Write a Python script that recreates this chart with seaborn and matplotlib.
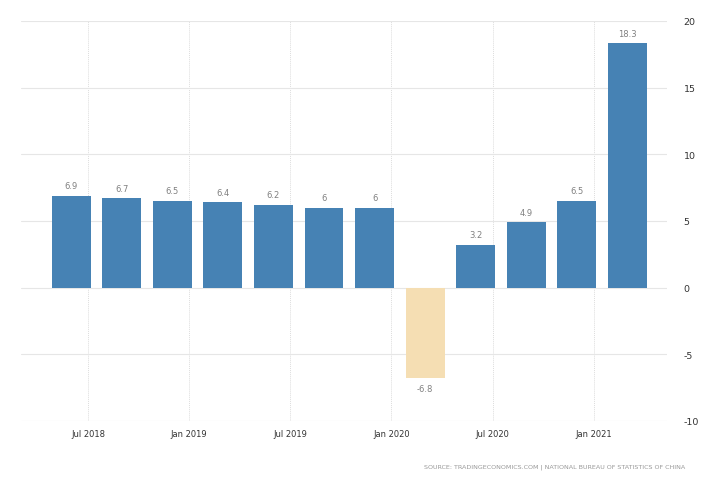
import pandas as pd
import matplotlib.pyplot as plt
import seaborn as sns

# trimestres Q2 2018 .. Q1 2021, posição em meses desde Jan 2018
meses = [5, 8, 11, 14, 17, 20, 23, 26, 29, 32, 35, 38]
valores = [6.9, 6.7, 6.5, 6.4, 6.2, 6, 6, -6.8, 3.2, 4.9, 6.5, 18.3]
rotulos = ['6.9', '6.7', '6.5', '6.4', '6.2', '6', '6', '-6.8', '3.2', '4.9', '6.5', '18.3']
ticks_x = [6, 12, 18, 24, 30, 36]
labels_x = ['Jul 2018', 'Jan 2019', 'Jul 2019', 'Jan 2020', 'Jul 2020', 'Jan 2021']
ticks_y = [-10, -5, 0, 5, 10, 15, 20]

df = pd.DataFrame({'Mes': meses, 'Valor': valores})
df['Sinal'] = ['pos' if v >= 0 else 'neg' for v in valores]

sns.set_style('white')
plt.rcParams['font.family'] = ['DejaVu Sans']
plt.rcParams['axes.unicode_minus'] = False

fig = plt.figure(figsize=(7.28, 4.85), dpi=100)
ax = fig.add_axes([0.029, 0.13, 0.887, 0.825])

sns.barplot(data=df, x='Mes', y='Valor', hue='Sinal', native_scale=True, dodge=False,
            palette={'pos': '#4682B4', 'neg': '#F5DEB3'}, width=0.77, saturation=1,
            linewidth=0, legend=False, ax=ax, zorder=3)

ax.set_xlim(2.04, 40.33)
ax.set_ylim(-10, 20)
ax.set_xticks(ticks_x)
ax.set_xticklabels(labels_x)
ax.set_yticks(ticks_y)
ax.yaxis.tick_right()
ax.tick_params(axis='x', labelsize=6, colors='#333333', length=0, pad=6)
ax.tick_params(axis='y', labelsize=6.8, colors='#333333', length=0, pad=12)
ax.set_xlabel('')
ax.set_ylabel('')
for s in ax.spines.values():
    s.set_visible(False)

ax.grid(axis='y', color='#e6e6e6', linewidth=0.8, zorder=0)
ax.grid(axis='x', color='#dddddd', linewidth=0.7, linestyle=(0, (1, 1)), zorder=0)
ax.set_axisbelow(True)

for m, v, t in zip(meses, valores, rotulos):
    if v >= 0:
        ax.annotate(t, (m, v), xytext=(0, 4), textcoords='offset points',
                    ha='center', va='bottom', fontsize=6, color='#808080')
    else:
        ax.annotate(t, (m, v), xytext=(0, -4), textcoords='offset points',
                    ha='center', va='top', fontsize=6, color='#808080')

fig.text(685 / 728, 1 - 467 / 485,
         'SOURCE: TRADINGECONOMICS.COM | NATIONAL BUREAU OF STATISTICS OF CHINA',
         ha='right', va='center', fontsize=4.6, color='#999999')

fig.savefig('out.png', dpi=100)
